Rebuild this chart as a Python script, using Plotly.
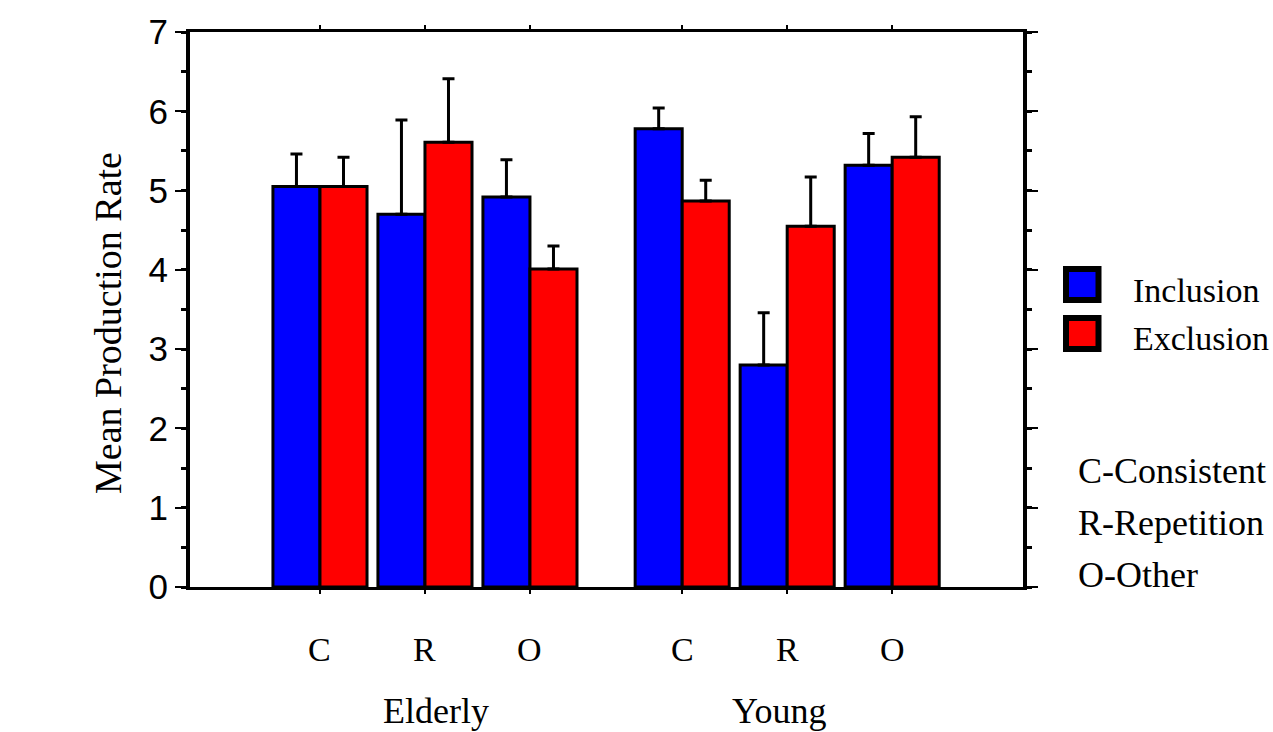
import plotly.graph_objects as go

# ---- data ----
groups = ["Elderly", "Young"]
conditions = ["C", "R", "O"]
inclusion_mean = [5.05, 4.70, 4.92, 5.78, 2.80, 5.32]
inclusion_err = [0.41, 1.19, 0.47, 0.26, 0.66, 0.40]
exclusion_mean = [5.05, 5.61, 4.01, 4.87, 4.55, 5.42]
exclusion_err = [0.37, 0.80, 0.29, 0.26, 0.62, 0.51]
y_ticks = [0, 1, 2, 3, 4, 5, 6, 7]
notes = ["C-Consistent", "R-Repetition", "O-Other"]

# ---- layout helpers ----
W, H = 1273, 732
L, R, T, B = 190, 1023, 31.5, 587.5
group_gap = 0.45
positions = []
labels = []
for g, _ in enumerate(groups):
    for i, c in enumerate(conditions):
        positions.append(i + g * (len(conditions) + group_gap))
        labels.append(c)

bar_w = 0.448
xr = [-1.238, 6.696]


def px_x(p):
    return (p - L) / (R - L)


def px_y(p):
    return (B - p) / (B - T)


serif = "Liberation Serif, Times New Roman, serif"
sans = "Liberation Sans, Arial, sans-serif"

fig = go.Figure()
fig.add_trace(go.Bar(
    x=positions, y=inclusion_mean, width=bar_w, offset=-bar_w,
    marker=dict(color="#0000ff", line=dict(color="black", width=3)),
    error_y=dict(type="data", symmetric=False, array=inclusion_err,
                 arrayminus=[0] * len(inclusion_err),
                 color="black", thickness=3, width=6),
    name="Inclusion", showlegend=False,
))
fig.add_trace(go.Bar(
    x=positions, y=exclusion_mean, width=bar_w, offset=0,
    marker=dict(color="#ff0000", line=dict(color="black", width=3)),
    error_y=dict(type="data", symmetric=False, array=exclusion_err,
                 arrayminus=[0] * len(exclusion_err),
                 color="black", thickness=3, width=6),
    name="Exclusion", showlegend=False,
))

fig.update_layout(
    width=W, height=H,
    margin=dict(l=L, r=W - R, t=T, b=H - B, pad=0),
    plot_bgcolor="white", paper_bgcolor="white",
    barmode="overlay",
    xaxis=dict(range=xr, showgrid=False, zeroline=False,
               showline=True, linecolor="black", linewidth=3, mirror="ticks",
               ticks="outside", ticklen=4, tickwidth=2, tickcolor="black",
               tickvals=positions, showticklabels=False),
    yaxis=dict(range=[0, 7], showgrid=False, zeroline=False,
               showline=True, linecolor="black", linewidth=4, mirror="ticks",
               ticks="outside", ticklen=11, tickwidth=2, tickcolor="black",
               tickvals=y_ticks, ticktext=[str(v) for v in y_ticks],
               tickfont=dict(family=sans, size=35, color="black"),
               minor=dict(dtick=0.5, ticks="outside", ticklen=5, tickwidth=3,
                          tickcolor="black", showgrid=False)),
)

ann = []
# category labels
for p, lab in zip(positions, labels):
    ann.append(dict(x=p, y=px_y(650), xref="x", yref="paper", text=lab,
                    showarrow=False, xanchor="center", yanchor="middle",
                    font=dict(family=serif, size=34, color="black")))
# group labels
group_px = [436, 779]
for gx, gname in zip(group_px, groups):
    ann.append(dict(x=px_x(gx), y=px_y(712), xref="paper", yref="paper",
                    text=gname, showarrow=False, xanchor="center",
                    yanchor="middle",
                    font=dict(family=serif, size=36, color="black")))
# y axis title
ann.append(dict(x=px_x(108), y=px_y(323), xref="paper", yref="paper",
                text="Mean Production Rate", textangle=-90, showarrow=False,
                xanchor="center", yanchor="middle",
                font=dict(family=serif, size=38, color="black")))
# legend text
for name, cy in [("Inclusion", 290), ("Exclusion", 339)]:
    ann.append(dict(x=px_x(1131), y=px_y(cy), xref="paper", yref="paper",
                    text=name, showarrow=False, xanchor="left",
                    yanchor="middle",
                    font=dict(family=serif, size=34, color="black")))
# notes
for note, cy in zip(notes, [471, 523, 575]):
    ann.append(dict(x=px_x(1076), y=px_y(cy), xref="paper", yref="paper",
                    text=note, showarrow=False, xanchor="left",
                    yanchor="middle",
                    font=dict(family=serif, size=36, color="black")))
fig.update_layout(annotations=ann)

# legend swatches
shapes = []
for color, y0, y1 in [("#0000ff", 266, 303), ("#ff0000", 315, 352)]:
    shapes.append(dict(type="rect", xref="paper", yref="paper",
                       x0=px_x(1066), x1=px_x(1098.5),
                       y0=px_y(y1 - 3), y1=px_y(y0 + 3),
                       fillcolor=color, line=dict(color="black", width=6)))
fig.update_layout(shapes=shapes)

fig.write_html(
    "out.html",
    config={"displayModeBar": False},
    post_script="document.body.style.margin='0';"
                "document.body.style.overflow='hidden';"
                "document.documentElement.style.overflow='hidden';",
)
